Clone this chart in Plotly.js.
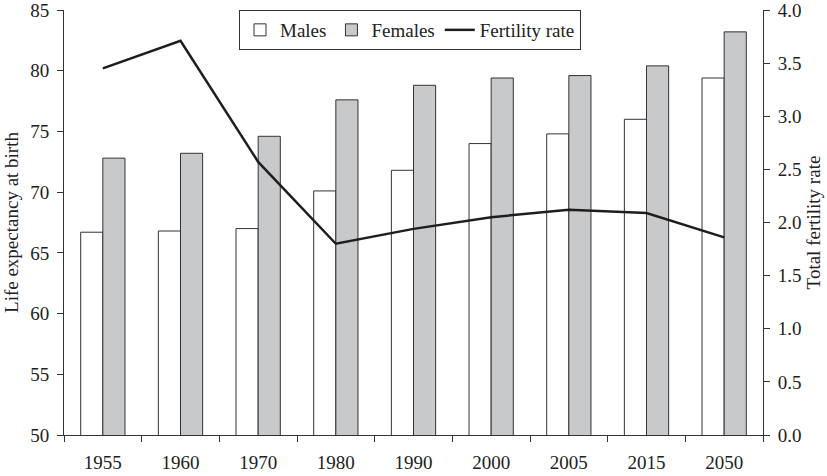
<!DOCTYPE html>
<html>
<head>
<meta charset="utf-8">
<script src="https://cdn.plot.ly/plotly-3.0.1.min.js"></script>
<style>html,body{margin:0;padding:0;background:#fff;}#chart{width:827px;height:476px;}</style>
</head>
<body>
<div id="chart"></div>
<script>
var years = ["1955","1960","1970","1980","1990","2000","2005","2015","2050"];
var males = [66.7, 66.8, 67.0, 70.1, 71.8, 74.0, 74.8, 76.0, 79.4];
var females = [72.8, 73.2, 74.6, 77.6, 78.8, 79.4, 79.6, 80.4, 83.2];
var fertility = [3.45, 3.71, 2.57, 1.80, 1.94, 2.05, 2.12, 2.09, 1.86];

var FONT = "'Liberation Serif', 'Times New Roman', serif";
var traces = [
  {type:"bar", name:"Males", x:years, y:males,
   marker:{color:"#ffffff", line:{color:"#333333", width:1}}},
  {type:"bar", name:"Females", x:years, y:females,
   marker:{color:"#c8c9cb", line:{color:"#333333", width:1}}},
  {type:"scatter", mode:"lines", name:"Fertility rate", x:years, y:fertility, yaxis:"y2",
   line:{color:"#1e1e1e", width:2.5}}
];

var layout = {
  width:827, height:476,
  margin:{l:64, r:64, t:10, b:41},
  paper_bgcolor:"#fff", plot_bgcolor:"#fff",
  font:{family:FONT, size:19, color:"#222"},
  barmode:"group", bargap:0.43, bargroupgap:0,
  showlegend:true,
  legend:{orientation:"h", x:0.495, xanchor:"center", y:1.0, yanchor:"top",
    bgcolor:"#fff", bordercolor:"#333", borderwidth:1, tracegroupgap:0,
    font:{family:FONT, size:19, color:"#222"}, traceorder:"normal", itemwidth:30},
  xaxis:{type:"category", showline:true, linecolor:"#333", linewidth:1,
    ticks:"outside", ticklen:6, tickcolor:"#333", tickson:"boundaries",
    showgrid:false, zeroline:false, ticklabelstandoff:10,
    tickfont:{family:FONT, size:19, color:"#222"}},
  yaxis:{range:[50,85], dtick:5, tick0:50, showline:true, linecolor:"#333", linewidth:1,
    ticks:"outside", ticklen:6, tickcolor:"#333", showgrid:false, zeroline:false,
    ticklabelstandoff:4, ticklabeloverflow:"allow",
    tickfont:{family:FONT, size:19, color:"#222"},
    title:{text:"Life expectancy at birth", standoff:6, font:{family:FONT, size:19, color:"#222"}}},
  yaxis2:{range:[0,4], dtick:0.5, tick0:0, tickformat:".1f", overlaying:"y", side:"right",
    showline:true, linecolor:"#333", linewidth:1,
    ticks:"outside", ticklen:6, tickcolor:"#333", showgrid:false, zeroline:false,
    ticklabelstandoff:4, ticklabeloverflow:"allow",
    tickfont:{family:FONT, size:19, color:"#222"},
    title:{text:"Total fertility rate", standoff:6, font:{family:FONT, size:19, color:"#222"}}}
};
Plotly.newPlot("chart", traces, layout, {displayModeBar:false, staticPlot:true});
</script>
</body>
</html>
